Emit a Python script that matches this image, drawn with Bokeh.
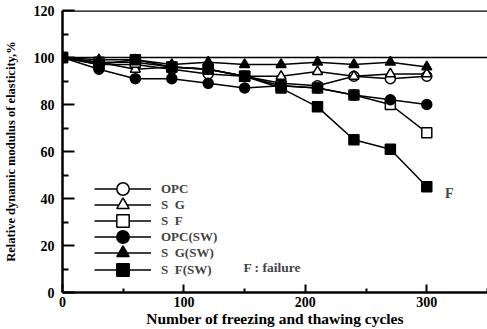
from bokeh.plotting import figure
from bokeh.models import Span, Label, Legend, LegendItem, FixedTicker, Range1d
from bokeh.embed import file_html
from bokeh.resources import INLINE

cycles = [0, 30, 60, 90, 120, 150, 180, 210, 240, 270, 300]
opc = [100, 97, 97, 95, 93, 92, 89, 88, 92, 91, 92]
sg = [100, 98, 95, 96, 95, 92, 92, 94, 92, 93, 93]
sf = [100, 98, 98, 96, 95, 92, 88, 87, 84, 80, 68]
opc_sw = [100, 95, 91, 91, 89, 87, 88, 87, 84, 82, 80]
sg_sw = [100, 99, 99, 97, 98, 97, 97, 98, 97, 98, 96]
sf_sw = [100, 97, 99, 96, 95, 92, 87, 79, 65, 61, 45]

series = [
    ("OPC", opc, "circle", "white"),
    ("S\u00a0\u00a0G", sg, "triangle", "white"),
    ("S\u00a0\u00a0F", sf, "square", "white"),
    ("OPC(SW)", opc_sw, "circle", "black"),
    ("S\u00a0\u00a0G(SW)", sg_sw, "triangle", "black"),
    ("S\u00a0\u00a0F(SW)", sf_sw, "square", "black"),
]
# legend row positions (px above the plot frame's bottom edge)
legend_rows = [88, 72, 56, 40, 24, 7]

FONT = "Liberation Serif"

p = figure(width=487, height=329, output_backend="svg", toolbar_location=None,
           x_range=Range1d(0, 350), y_range=Range1d(0, 120),
           min_border_left=61, min_border_right=0, min_border_top=10, min_border_bottom=35)
p.outline_line_color = None
p.grid.visible = False
p.background_fill_color = "white"

for ax in (p.xaxis[0], p.yaxis[0]):
    ax.axis_line_width = 2.5
    ax.major_tick_in = 12
    ax.major_tick_out = 0
    ax.minor_tick_in = 6
    ax.minor_tick_out = 0
    ax.major_tick_line_width = 2
    ax.minor_tick_line_width = 2
    ax.major_label_text_font = FONT
    ax.major_label_text_font_style = "bold"
    ax.major_label_text_font_size = "14px"
    ax.major_label_text_color = "black"
    ax.axis_label_text_font = FONT
    ax.axis_label_text_font_style = "bold"
    ax.axis_label_text_color = "black"

p.xaxis.ticker = FixedTicker(ticks=[0, 100, 200, 300], minor_ticks=[50, 150, 250, 350])
p.yaxis.ticker = FixedTicker(ticks=[0, 20, 40, 60, 80, 100, 120],
                             minor_ticks=[10, 30, 50, 70, 90, 110])
p.xaxis.major_tick_in = 8
p.xaxis.minor_tick_in = 4
p.xaxis.major_label_standoff = 4
p.yaxis.major_label_standoff = 8
p.xaxis.axis_label = "Number of freezing and thawing cycles"
p.xaxis.axis_label_text_font_size = "15.5px"
p.xaxis.axis_label_standoff = 0
p.yaxis.axis_label = "Relative dynamic modulus of elasticity,%"
p.yaxis.axis_label_text_font_size = "12.5px"
p.yaxis.axis_label_standoff = 13

p.add_layout(Span(location=120, dimension="width", line_color="black", line_width=2.5))
p.add_layout(Span(location=100, dimension="width", line_color="black", line_width=1.5))

for (name, vals, marker, fill), row in zip(series, legend_rows):
    r1 = p.line(cycles, vals, line_color="black", line_width=1.5)
    r2 = p.scatter(cycles, vals, marker=marker, size=10, fill_color=fill,
                   line_color="black", line_width=1.5)
    lg = Legend(items=[LegendItem(label=name, renderers=[r1, r2])],
                location=(32, row), glyph_width=57, glyph_height=31,
                spacing=0, padding=0, margin=0, label_standoff=10,
                border_line_color=None, background_fill_alpha=0,
                label_text_font=FONT, label_text_font_style="bold",
                label_text_font_size="13px", label_height=15)
    p.add_layout(lg)

p.add_layout(Label(x=149, y=10.5, text="F : failure", text_font=FONT,
                   text_font_style="bold", text_font_size="13.5px", text_baseline="middle"))
p.add_layout(Label(x=315, y=42, text="F", text_font=FONT,
                   text_font_style="bold", text_font_size="14px", text_baseline="middle"))

open("out.html", "w").write(file_html(p, INLINE))
